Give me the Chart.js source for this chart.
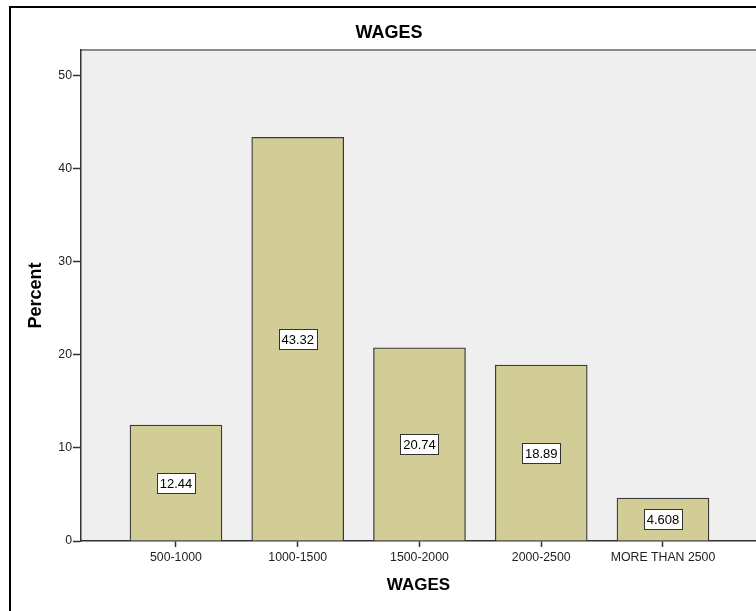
<!DOCTYPE html>
<html>
<head>
<meta charset="utf-8">
<script src="https://cdn.jsdelivr.net/npm/chart.js@4/dist/chart.umd.min.js"></script>
<style>
    body { margin: 0; background: #fff; overflow: hidden; }
    #wrap { width: 756px; height: 611px; }
</style>
</head>
<body>
<div id="wrap"><canvas id="myChart" width="756" height="611"></canvas></div>
<script>
const categories = ['500-1000', '1000-1500', '1500-2000', '2000-2500', 'MORE THAN 2500'];
const percents = [12.44, 43.32, 20.74, 18.89, 4.608];
const yTicks = [0, 10, 20, 30, 40, 50];

const font = 'Arial, "Liberation Sans", sans-serif';

// grey plot area + frame around the picture
const backdrop = {
    id: 'backdrop',
    beforeDraw(chart) {
        const c = chart.ctx;
        const a = chart.chartArea;
        c.save();
        c.fillStyle = '#efefef';
        c.fillRect(a.left, a.top, a.right - a.left, a.bottom - a.top);
        c.strokeStyle = '#8a8a8a';
        c.lineWidth = 2;
        c.beginPath();
        c.moveTo(a.left, a.top);
        c.lineTo(a.right, a.top);
        c.stroke();
        c.strokeStyle = '#000';
        c.lineWidth = 2;
        c.beginPath();
        c.moveTo(10, 611);
        c.lineTo(10, 7);
        c.lineTo(756, 7);
        c.stroke();
        c.restore();
    }
};

// boxed value labels in the middle of each bar
const valueBoxes = {
    id: 'valueBoxes',
    afterDatasetsDraw(chart) {
        const c = chart.ctx;
        const meta = chart.getDatasetMeta(0);
        c.save();
        c.font = '13px ' + font;
        c.textAlign = 'center';
        c.textBaseline = 'middle';
        meta.data.forEach((bar, i) => {
            const txt = percents[i].toPrecision(4);
            const cy = Math.round((bar.y + bar.base) / 2);
            const w = Math.ceil(c.measureText(txt).width) + 5;
            const h = 20;
            const x0 = Math.round(bar.x - w / 2) + 0.5;
            const y0 = cy - h / 2 + 0.5;
            c.fillStyle = '#fff';
            c.fillRect(x0, y0, w, h);
            c.strokeStyle = '#333';
            c.lineWidth = 1;
            c.strokeRect(x0, y0, w, h);
            c.fillStyle = '#000';
            c.fillText(txt, bar.x, cy + 1);
        });
        c.restore();
    }
};

const ctx = document.getElementById('myChart').getContext('2d');
const myChart = new Chart(ctx, { //eslint-disable-line
    type: 'bar',
    data: {
        datasets: [{
            label: 'Percent',
            data: percents.map((p, i) => ({ x: i, y: p })),
            backgroundColor: '#d2cd97',
            borderColor: '#3a3a3a',
            borderWidth: 1.3,
            barThickness: 92
        }]
    },
    options: {
        responsive: false,
        animation: false,
        layout: { padding: { left: 22, right: 0, top: 0, bottom: 0 } },
        plugins: {
            legend: { display: false },
            tooltip: { enabled: false },
            title: {
                display: true,
                text: 'WAGES',
                color: '#000',
                font: { family: font, size: 18, weight: 'bold' },
                padding: { top: 22.5, bottom: 5.9 }
            }
        },
        scales: {
            x: {
                type: 'linear',
                offset: false,
                min: -0.78,
                max: 4.764,
                afterBuildTicks: (scale) => {
                    scale.ticks = categories.map((c, i) => ({ value: i }));
                },
                afterFit: (scale) => { scale.height = 70; },
                ticks: {
                    autoSkip: false,
                    maxRotation: 0,
                    padding: 3.5,
                    color: '#222',
                    font: { family: font, size: 12.3 },
                    callback: (v) => categories[v]
                },
                grid: { offset: false, drawOnChartArea: false, tickLength: 6, color: '#333', tickWidth: 1.5 },
                border: { color: '#333', width: 1.5 },
                title: {
                    display: true,
                    text: 'WAGES',
                    color: '#000',
                    font: { family: font, size: 17, weight: 'bold' },
                    padding: { top: 0, bottom: 15 }
                }
            },
            y: {
                min: 0,
                max: 52.7,
                afterBuildTicks: (scale) => {
                    scale.ticks = yTicks.map(v => ({ value: v }));
                },
                afterFit: (scale) => { scale.width = 59; },
                ticks: {
                    padding: 1,
                    color: '#222',
                    font: { family: font, size: 12.3 }
                },
                grid: { drawOnChartArea: false, tickLength: 8, color: '#333', tickWidth: 1.5 },
                border: { color: '#333', width: 1.5 },
                title: {
                    display: true,
                    text: 'Percent',
                    color: '#000',
                    font: { family: font, size: 18, weight: 'bold' },
                    padding: { top: 3.7, bottom: 0 }
                }
            }
        }
    },
    plugins: [backdrop, valueBoxes]
});
</script>
</body>
</html>
